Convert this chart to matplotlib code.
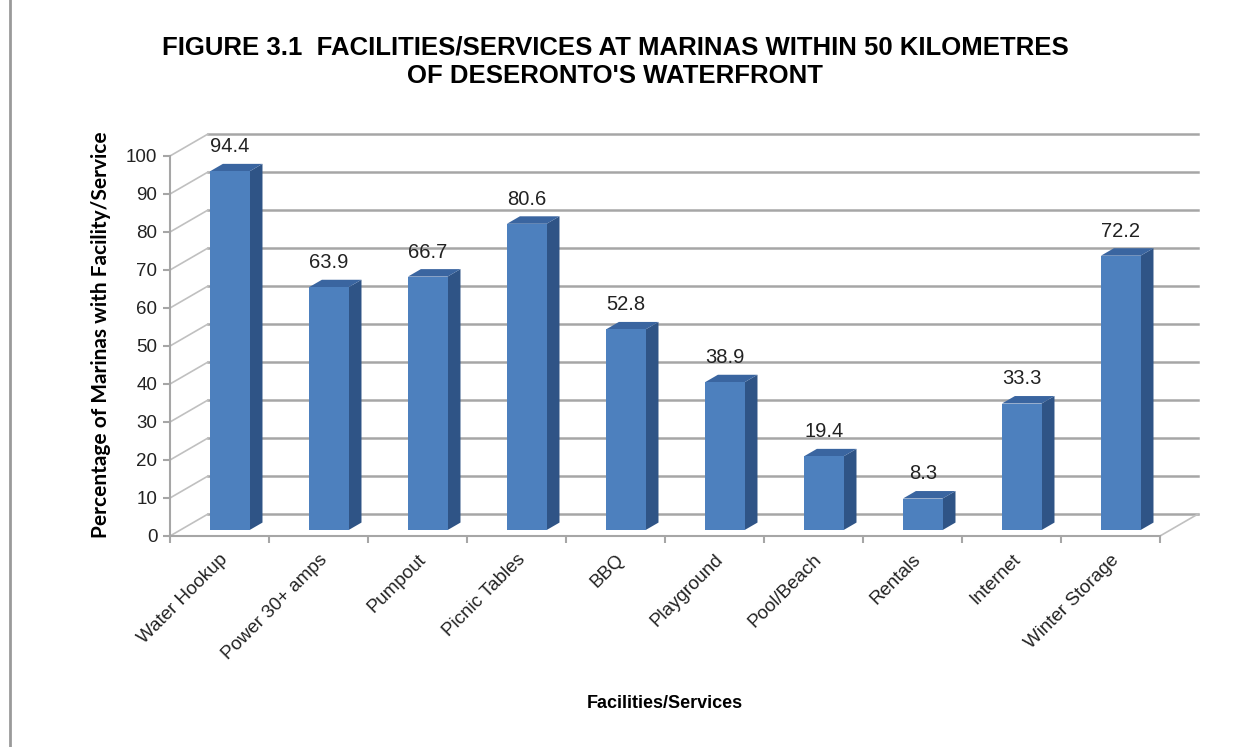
import matplotlib.pyplot as plt
from matplotlib.patches import Polygon
from matplotlib.lines import Line2D

facilities = ['Water Hookup', 'Power 30+ amps', 'Pumpout', 'Picnic Tables', 'BBQ',
              'Playground', 'Pool/Beach', 'Rentals', 'Internet', 'Winter Storage']
percent = [94.4, 63.9, 66.7, 80.6, 52.8, 38.9, 19.4, 8.3, 33.3, 72.2]
y_ticks = list(range(0, 101, 10))

# oblique depth of the fake 3d box (x in category units, y in value units)
depth_x = 0.384
depth_y = 5.79
bar_w = 0.4
f_front, f_back = 0.27, 0.61

front_col = '#4d80be'
side_col = '#2f5486'
top_col = '#3a65a0'
grid_col = '#a6a6a6'

plt.rcParams['font.family'] = ['Liberation Sans', 'DejaVu Sans']

fig = plt.figure(figsize=(12.52, 7.47), dpi=100)
ax = fig.add_axes([170 / 1252, 1 - 536 / 747, 990 / 1252, 380 / 747])
ax.set_xlim(-0.5, len(facilities) - 0.5)
ax.set_ylim(0, 100)
ax.patch.set_alpha(0)

x0, x1 = -0.5, len(facilities) - 0.5

# back wall gridlines and left side wall
for v in y_ticks:
    ax.add_line(Line2D([x0 + depth_x, x1 + depth_x], [v + depth_y, v + depth_y],
                       color=grid_col, lw=1.8, clip_on=False, zorder=1))
    ax.add_line(Line2D([x0, x0 + depth_x], [v, v + depth_y],
                       color='#c0c0c0', lw=1.2, clip_on=False, zorder=1))
# floor right edge
ax.add_line(Line2D([x1, x1 + depth_x], [0, depth_y],
                   color='#c0c0c0', lw=1.2, clip_on=False, zorder=1))

for i, v in enumerate(percent):
    xl = i - bar_w / 2 + f_front * depth_x
    xr = xl + bar_w
    yb = f_front * depth_y
    dx = (f_back - f_front) * depth_x
    dy = (f_back - f_front) * depth_y
    side = [(xr, yb), (xr + dx, yb + dy), (xr + dx, yb + dy + v), (xr, yb + v)]
    top = [(xl, yb + v), (xr, yb + v), (xr + dx, yb + dy + v), (xl + dx, yb + dy + v)]
    front = [(xl, yb), (xr, yb), (xr, yb + v), (xl, yb + v)]
    ax.add_patch(Polygon(side, closed=True, facecolor=side_col, edgecolor='none',
                         clip_on=False, zorder=3))
    ax.add_patch(Polygon(top, closed=True, facecolor=top_col, edgecolor='none',
                         clip_on=False, zorder=3))
    ax.add_patch(Polygon(front, closed=True, facecolor=front_col, edgecolor='none',
                         clip_on=False, zorder=4))
    ax.text(i + f_front * depth_x, v + f_back * depth_y + 2.0, f'{v}',
            ha='center', va='bottom', fontsize=14.5, color='#222222', zorder=5)

for s in ['top', 'right']:
    ax.spines[s].set_visible(False)
for s in ['left', 'bottom']:
    ax.spines[s].set_color(grid_col)
    ax.spines[s].set_linewidth(1.5)
    ax.spines[s].set_zorder(2)

ax.set_yticks(y_ticks)
ax.tick_params(axis='y', length=5, width=1.5, color=grid_col, labelsize=13.5,
               labelcolor='#222222', pad=4)
ax.set_xticks(range(len(facilities)))
ax.set_xticklabels(facilities, rotation=45, ha='right', rotation_mode='anchor')
ax.set_xticks([k - 0.5 for k in range(len(facilities) + 1)], minor=True)
ax.tick_params(axis='x', which='major', length=0, labelsize=13.5, labelcolor='#222222', pad=11)
ax.tick_params(axis='x', which='minor', length=5, width=1.5, color=grid_col)

ax.set_ylabel('Percentage of Marinas with Facility/Service', fontsize=15, fontweight='bold',
              family=['Lato', 'DejaVu Sans'])
ax.yaxis.set_label_coords(-0.06, 0.53)
fig.text(665 / 1252, 1 - 703 / 747, 'Facilities/Services', ha='center', va='center',
         fontsize=13, fontweight='bold')
fig.text(615 / 1252, 1 - 62 / 747,
         "FIGURE 3.1  FACILITIES/SERVICES AT MARINAS WITHIN 50 KILOMETRES\nOF DESERONTO'S WATERFRONT",
         ha='center', va='center', fontsize=18.5, fontweight='bold', linespacing=1.25)

fig.add_artist(Line2D([10 / 1252, 10 / 1252], [0, 1], color='#9a9a9a', lw=2,
                      transform=fig.transFigure))

fig.savefig('out.png', dpi=100)
